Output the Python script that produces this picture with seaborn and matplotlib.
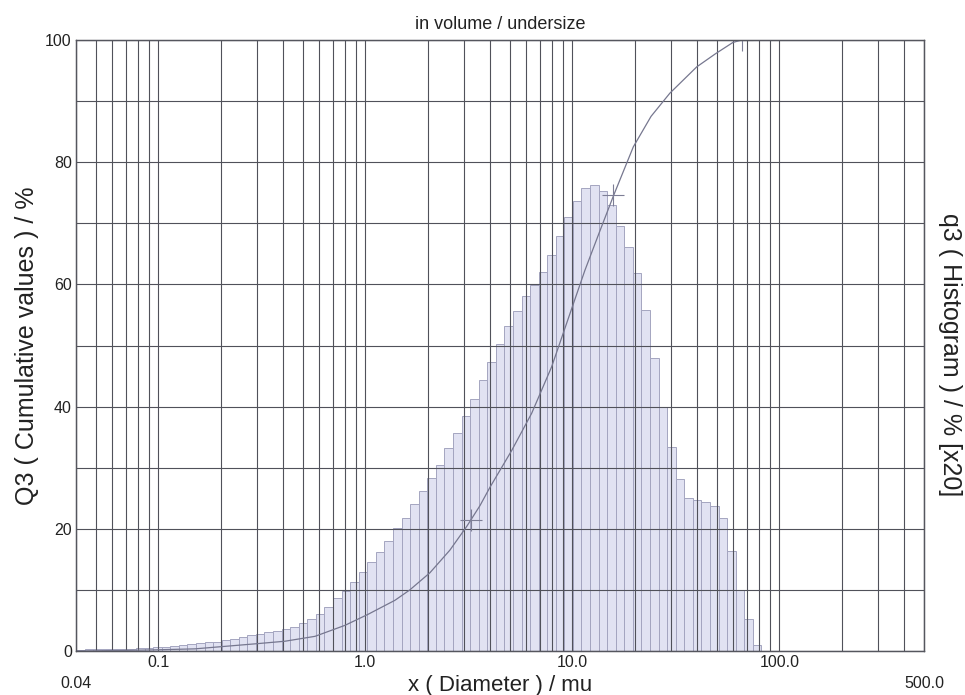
import numpy as np
import pandas as pd
import matplotlib
matplotlib.use("Agg")
import matplotlib.pyplot as plt
import seaborn as sns
from matplotlib.ticker import FixedLocator, FixedFormatter

# ---------------- data ----------------
# size classes (bin edges, micrometres)
class_edges = [0.04, 0.044, 0.0484, 0.05324, 0.05856, 0.06442, 0.07086, 0.07795, 0.08574, 0.09432,
               0.1037, 0.1141, 0.1255, 0.1381, 0.1519, 0.1671, 0.1838, 0.2022, 0.2224, 0.2446,
               0.2691, 0.2960, 0.3256, 0.3582, 0.3940, 0.4334, 0.4767, 0.5244, 0.5768, 0.6345,
               0.6980, 0.7678, 0.8446, 0.9290, 1.022, 1.124, 1.237, 1.360, 1.496, 1.646,
               1.810, 1.991, 2.191, 2.410, 2.651, 2.916, 3.207, 3.528, 3.881, 4.269,
               4.696, 5.165, 5.682, 6.250, 6.875, 7.562, 8.319, 9.151, 10.07, 11.07,
               12.18, 13.40, 14.74, 16.21, 17.83, 19.62, 21.58, 23.73, 26.11, 28.72,
               31.59, 34.75, 38.22, 42.05, 46.25, 50.88, 55.96, 61.56, 67.72, 74.49,
               81.94]
# q3 histogram values (x20)
q3_values = [0.2, 0.25, 0.3, 0.3, 0.35, 0.35, 0.4, 0.45, 0.5, 0.6,
             0.7, 0.8, 1.0, 1.1, 1.25, 1.4, 1.55, 1.8, 2.0, 2.3,
             2.55, 2.85, 3.1, 3.35, 3.65, 4.0, 4.55, 5.25, 6.1, 7.2,
             8.6, 9.9, 11.35, 13.0, 14.6, 16.2, 18.0, 20.1, 21.8, 24.1,
             26.2, 28.3, 30.5, 33.3, 35.6, 38.4, 41.3, 44.4, 47.3, 50.2,
             53.2, 55.7, 58.1, 59.9, 62.1, 64.8, 67.9, 71.0, 73.7, 75.7,
             76.3, 75.3, 73.0, 69.6, 66.1, 61.8, 55.8, 47.9, 39.9, 33.4,
             28.1, 25.0, 24.7, 24.4, 23.8, 21.7, 16.3, 10.0, 5.2, 1.0]
# cumulative Q3 curve
Q3_x = [0.04, 0.07, 0.1, 0.15, 0.235, 0.30, 0.409, 0.571, 0.797, 1.03,
        1.39, 1.64, 2.05, 2.56, 3.09, 3.58, 4.0, 5.09, 6.36, 7.94,
        9.92, 11.5, 13.5, 15.8, 19.7, 24.0, 29.6, 39.9, 49.4, 59.7, 65.8]
Q3_y = [0.0, 0.1, 0.2, 0.35, 0.9, 1.2, 1.6, 2.4, 4.2, 6.0,
        8.3, 10.0, 12.8, 16.5, 20.4, 23.8, 26.8, 32.8, 38.9, 46.5,
        56.0, 62.3, 68.5, 74.5, 82.5, 87.5, 91.3, 95.6, 97.8, 99.6, 100.0]
# cursor marks
cursor_x = [3.24, 15.7, 66.0]
cursor_y = [21.4, 74.6, 100.0]

x_tick_values = [0.1, 1.0, 10.0, 100.0]
x_tick_labels = ["0.1", "1.0", "10.0", "100.0"]
x_end_values = [0.04, 500.0]
x_end_labels = ["0.04", "500.0"]
y_tick_values = [0, 20, 40, 60, 80, 100]

# ---------------- plot ----------------
sns.set_style("white")
plt.rcParams["font.family"] = ["Liberation Sans", "DejaVu Sans"]

fig = plt.figure(figsize=(9.65, 6.95), dpi=100)
ax = fig.add_axes([76 / 965, 44 / 695, 848 / 965, 611 / 695])
ax2 = ax.twinx()

edges = np.array(class_edges)
centers = np.sqrt(edges[:-1] * edges[1:])
hist_df = pd.DataFrame({"size": centers, "q3": q3_values})
log_bins = [float(v) for v in np.log10(edges)]

sns.histplot(data=hist_df, x="size", weights="q3", bins=log_bins,
             log_scale=True, stat="count", element="bars", fill=True,
             color="#e0e1f2", alpha=0.95, edgecolor="#a4a5c0", linewidth=0.7,
             ax=ax2)

cum_df = pd.DataFrame({"size": Q3_x, "Q3": Q3_y})
sns.lineplot(data=cum_df, x="size", y="Q3", ax=ax, color="#76778f",
             linewidth=0.9)
ax.plot(cursor_x, cursor_y, linestyle="none", marker="+", markersize=16,
        markeredgewidth=0.8, color="#7d7e95")

# axes on top of the histogram
ax.set_zorder(ax2.get_zorder() + 1)
ax.patch.set_visible(False)

for a in (ax, ax2):
    a.set_xscale("log")
    a.set_xlim(0.04, 500)
    a.set_ylim(0, 100)

ax.xaxis.set_major_locator(FixedLocator(x_tick_values))
ax.xaxis.set_major_formatter(FixedFormatter(x_tick_labels))

# minor grid positions (2..9 x decade) plus the two axis-end labels
minor_x = [m * 10.0 ** d for d in range(-2, 3) for m in range(2, 10)]
minor_x = [v for v in minor_x if 0.04 < v < 500]
minor_pos = [x_end_values[0]] + minor_x + [x_end_values[1]]
minor_lab = [x_end_labels[0]] + [""] * len(minor_x) + [x_end_labels[1]]
ax.xaxis.set_minor_locator(FixedLocator(minor_pos))
ax.xaxis.set_minor_formatter(FixedFormatter(minor_lab))

ax.set_yticks(y_tick_values)
ax.set_yticks([10, 30, 50, 70, 90], minor=True)

ax.grid(True, which="both", axis="both", color="#50515a", linewidth=0.8)
ax.tick_params(axis="both", which="both", length=0, labelsize=11.5,
               colors="#222222")
ax.tick_params(axis="x", which="major", pad=3)
ax.tick_params(axis="x", which="minor", pad=18)
ax.tick_params(axis="y", pad=3)

ax2.set_yticks([])
ax2.set_xlabel("")
ax2.set_ylabel("")
ax2.grid(False)

for a in (ax, ax2):
    for s in a.spines.values():
        s.set_color("#55565e")
        s.set_linewidth(0.9)

ax.set_title("in volume / undersize", fontsize=13, pad=8, color="#222222")
ax.set_xlabel("x ( Diameter ) / mu", fontsize=16, color="#222222")
ax.xaxis.set_label_coords(0.5, -0.040)
ax.set_ylabel("Q3 ( Cumulative values ) / %", fontsize=18, color="#222222")
ax.yaxis.set_label_coords(-0.044, 0.5)
fig.text(0.984, 0.49, "q3 ( Histogram ) / % [x20]", rotation=270,
         fontsize=18, color="#222222", ha="center", va="center")

fig.savefig("out.png", dpi=100)
